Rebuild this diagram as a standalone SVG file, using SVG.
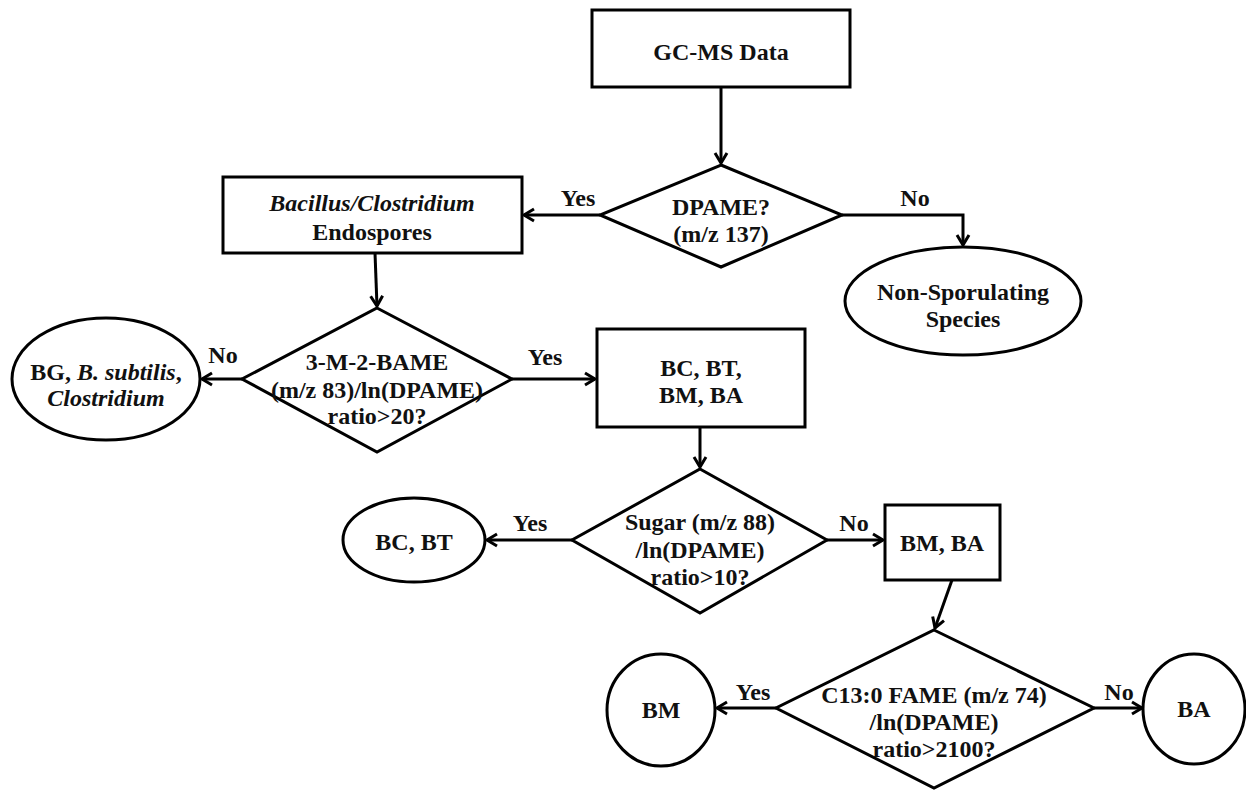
<svg xmlns="http://www.w3.org/2000/svg" width="1246" height="791" viewBox="0 0 1246 791">
<style>
.s{fill:#fff;stroke:#000;stroke-width:3}
.t{font-family:"Liberation Serif","Times New Roman",serif;font-weight:bold;font-size:24px;text-anchor:middle;fill:#111}
.i{font-style:italic}
.c{fill:none;stroke:#000;stroke-width:3}
</style>
<defs>
<marker id="a" markerUnits="userSpaceOnUse" markerWidth="16" markerHeight="16" refX="13" refY="8" orient="auto">
<path d="M3,2 L13,8 L3,14" fill="none" stroke="#000" stroke-width="3"/>
</marker>
</defs>
<rect width="1246" height="791" fill="#fff"/>
<g id="connectors">
<path class="c" d="M721,87 V163" marker-end="url(#a)"/>
<path class="c" d="M600,215 H524" marker-end="url(#a)"/>
<path class="c" d="M842,215 H963 V245" marker-end="url(#a)"/>
<path class="c" d="M375,253 L377,306" marker-end="url(#a)"/>
<path class="c" d="M242,379 H202" marker-end="url(#a)"/>
<path class="c" d="M512,379 H595" marker-end="url(#a)"/>
<path class="c" d="M700,427 V467" marker-end="url(#a)"/>
<path class="c" d="M572,540 H487" marker-end="url(#a)"/>
<path class="c" d="M827,540 H883" marker-end="url(#a)"/>
<path class="c" d="M952,580 L935,628" marker-end="url(#a)"/>
<path class="c" d="M776,708 H717" marker-end="url(#a)"/>
<path class="c" d="M1094,708 H1142" marker-end="url(#a)"/>
<text class="t" x="578" y="206">Yes</text>
<text class="t" x="915" y="206">No</text>
<text class="t" x="223" y="363">No</text>
<text class="t" x="545" y="365">Yes</text>
<text class="t" x="530" y="531">Yes</text>
<text class="t" x="854" y="531">No</text>
<text class="t" x="753" y="700">Yes</text>
<text class="t" x="1119" y="700">No</text>
</g>
<g id="gcms">
<rect class="s" x="592" y="10" width="258" height="77"/>
<text class="t" x="721" y="60">GC-MS Data</text>
</g>
<g id="dpame">
<polygon class="s" points="721,165 842,215 721,267 600,215"/>
<text class="t" x="721" y="215">DPAME?</text>
<text class="t" x="721" y="242">(m/z 137)</text>
</g>
<g id="endospores">
<rect class="s" x="223" y="177" width="299" height="76"/>
<text class="t i" x="372" y="211">Bacillus/Clostridium</text>
<text class="t" x="372" y="240">Endospores</text>
</g>
<g id="nonspor">
<ellipse class="s" cx="963" cy="301" rx="118" ry="54"/>
<text class="t" x="963" y="300">Non-Sporulating</text>
<text class="t" x="963" y="327">Species</text>
</g>
<g id="bame">
<polygon class="s" points="377,308 512,379 377,452 242,379"/>
<text class="t" x="377" y="370">3-M-2-BAME</text>
<text class="t" x="377" y="398">(m/z 83)/ln(DPAME)</text>
<text class="t" x="377" y="424">ratio&gt;20?</text>
</g>
<g id="bg">
<ellipse class="s" cx="106" cy="379" rx="94" ry="61"/>
<text class="t" x="106" y="380">BG, <tspan class="i">B. subtilis</tspan>,</text>
<text class="t i" x="106" y="406">Clostridium</text>
</g>
<g id="bcbtbmba">
<rect class="s" x="597" y="329" width="208" height="98"/>
<text class="t" x="701" y="376">BC, BT,</text>
<text class="t" x="701" y="403">BM, BA</text>
</g>
<g id="sugar">
<polygon class="s" points="700,469 827,540 700,613 572,540"/>
<text class="t" x="700" y="530">Sugar (m/z 88)</text>
<text class="t" x="700" y="558">/ln(DPAME)</text>
<text class="t" x="700" y="585">ratio&gt;10?</text>
</g>
<g id="bcbt">
<ellipse class="s" cx="414" cy="540" rx="71" ry="42"/>
<text class="t" x="414" y="550">BC, BT</text>
</g>
<g id="bmba">
<rect class="s" x="885" y="505" width="115" height="75"/>
<text class="t" x="942" y="551">BM, BA</text>
</g>
<g id="c13">
<polygon class="s" points="934,630 1094,708 934,788 776,708"/>
<text class="t" x="934" y="703">C13:0 FAME (m/z 74)</text>
<text class="t" x="934" y="730">/ln(DPAME)</text>
<text class="t" x="934" y="757">ratio&gt;2100?</text>
</g>
<g id="bm">
<ellipse class="s" cx="661" cy="710" rx="54" ry="56"/>
<text class="t" x="661" y="718">BM</text>
</g>
<g id="ba">
<ellipse class="s" cx="1194" cy="709" rx="51" ry="55"/>
<text class="t" x="1194" y="717">BA</text>
</g>
</svg>
